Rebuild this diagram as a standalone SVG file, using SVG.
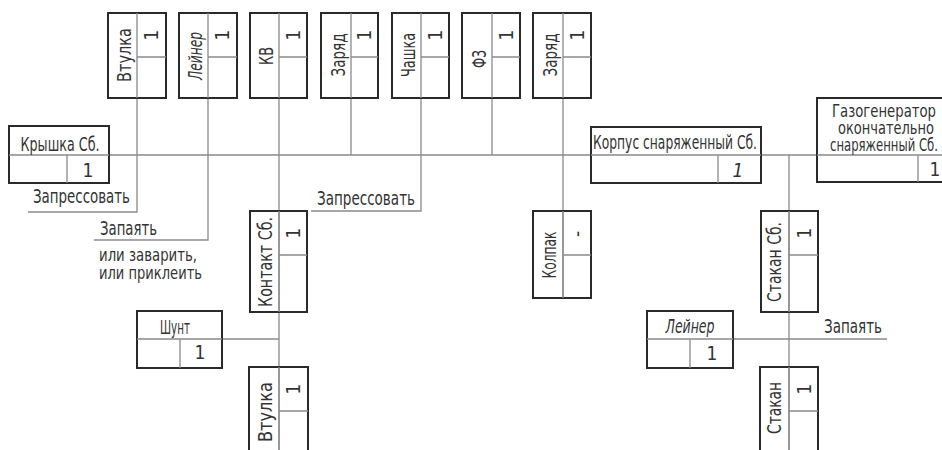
<svg xmlns="http://www.w3.org/2000/svg" width="942" height="450" viewBox="0 0 942 450">
<style>
.bg{fill:#fff}
.box{fill:none;stroke:#2a2a2a;stroke-width:2}
.div{fill:none;stroke:#8a8a8a;stroke-width:1.3}
.con{fill:none;stroke:#8a8a8a;stroke-width:1.3}
text{font-family:"Liberation Sans Narrow","DejaVu Sans Condensed","Liberation Sans",sans-serif;font-size:19px;fill:#333}
.it{font-style:italic}
.m{text-anchor:middle}
.sm{font-size:17px}
</style>
<rect class="bg" x="0" y="0" width="942" height="450"/>

<g id="connectors">
  <path class="con" d="M137,98 V212 H28"/>
  <path class="con" d="M208,98 V240 H94"/>
  <path class="con" d="M279,98 V450"/>
  <path class="con" d="M351,98 V155"/>
  <path class="con" d="M421,98 V211 H311"/>
  <path class="con" d="M492,98 V155"/>
  <path class="con" d="M563,98 V298"/>
  <path class="con" d="M109,155 H591"/>
  <path class="con" d="M761,155 H817"/>
  <path class="con" d="M789,155 V450"/>
  <path class="con" d="M222,339 H279"/>
  <path class="con" d="M733,339 H887"/>
  <text x="33" y="203" textLength="97" lengthAdjust="spacingAndGlyphs">Запрессовать</text>
  <text x="100" y="235" textLength="57" lengthAdjust="spacingAndGlyphs">Запаять</text>
  <text class="sm" x="99" y="261" textLength="98" lengthAdjust="spacingAndGlyphs">или заварить,</text>
  <text class="sm" x="99" y="279" textLength="103" lengthAdjust="spacingAndGlyphs">или приклеить</text>
  <text x="317" y="205" textLength="98" lengthAdjust="spacingAndGlyphs">Запрессовать</text>
  <text x="824" y="333" textLength="58" lengthAdjust="spacingAndGlyphs">Запаять</text>
</g>

<g id="n-vtulka-top">
  <rect class="box" x="108" y="13" width="58" height="85"/>
  <path class="div" d="M137,13 V98 M137,57 H166"/>
  <text class="m" transform="translate(131,55) rotate(-90)" textLength="54" lengthAdjust="spacingAndGlyphs">Втулка</text>
  <text class="m" transform="translate(158,35) rotate(-90)">1</text>
</g>
<g id="n-leiner-top">
  <rect class="box" x="179" y="13" width="58" height="85"/>
  <path class="div" d="M208,13 V98 M208,57 H237"/>
  <text class="m it" transform="translate(202,56) rotate(-90)" textLength="48" lengthAdjust="spacingAndGlyphs">Лейнер</text>
  <text class="m" transform="translate(229,35) rotate(-90)">1</text>
</g>
<g id="n-kv">
  <rect class="box" x="250" y="13" width="57" height="85"/>
  <path class="div" d="M279,13 V98 M279,57 H307"/>
  <text class="m" transform="translate(273,56) rotate(-90)" textLength="18" lengthAdjust="spacingAndGlyphs">КВ</text>
  <text class="m" transform="translate(300,35) rotate(-90)">1</text>
</g>
<g id="n-zaryad1">
  <rect class="box" x="321" y="13" width="57" height="85"/>
  <path class="div" d="M351,13 V98 M351,57 H378"/>
  <text class="m" transform="translate(345,55) rotate(-90)" textLength="43" lengthAdjust="spacingAndGlyphs">Заряд</text>
  <text class="m" transform="translate(371,35) rotate(-90)">1</text>
</g>
<g id="n-chashka">
  <rect class="box" x="392" y="13" width="57" height="85"/>
  <path class="div" d="M421,13 V98 M421,57 H449"/>
  <text class="m" transform="translate(415,55) rotate(-90)" textLength="44" lengthAdjust="spacingAndGlyphs">Чашка</text>
  <text class="m" transform="translate(442,35) rotate(-90)">1</text>
</g>
<g id="n-fz">
  <rect class="box" x="462" y="13" width="58" height="85"/>
  <path class="div" d="M492,13 V98 M492,57 H520"/>
  <text class="m" transform="translate(486,59) rotate(-90)" textLength="18" lengthAdjust="spacingAndGlyphs">ФЗ</text>
  <text class="m" transform="translate(513,35) rotate(-90)">1</text>
</g>
<g id="n-zaryad2">
  <rect class="box" x="533" y="13" width="58" height="85"/>
  <path class="div" d="M563,13 V98 M563,57 H591"/>
  <text class="m" transform="translate(557,55) rotate(-90)" textLength="43" lengthAdjust="spacingAndGlyphs">Заряд</text>
  <text class="m" transform="translate(584,35) rotate(-90)">1</text>
</g>

<g id="n-kryshka">
  <rect class="box" x="9" y="126" width="100" height="57"/>
  <path class="div" d="M9,155 H109 M67,155 V183"/>
  <text class="m" x="60" y="151" textLength="79" lengthAdjust="spacingAndGlyphs">Крышка Сб.</text>
  <text class="m" x="88" y="177">1</text>
</g>
<g id="n-korpus">
  <rect class="box" x="591" y="127" width="170" height="56"/>
  <path class="div" d="M591,155 H761 M718,155 V183"/>
  <text x="593" y="149" textLength="164" lengthAdjust="spacingAndGlyphs">Корпус снаряженный Сб.</text>
  <text class="m it" x="738" y="177">1</text>
</g>
<g id="n-gazogenerator">
  <rect class="box" x="817" y="98" width="140" height="84"/>
  <path class="div" d="M817,155 H957 M918,155 V182"/>
  <text class="m sm" x="884" y="117" textLength="104" lengthAdjust="spacingAndGlyphs">Газогенератор</text>
  <text class="m sm" x="886" y="134" textLength="96" lengthAdjust="spacingAndGlyphs">окончательно</text>
  <text class="m sm" x="884" y="151" textLength="108" lengthAdjust="spacingAndGlyphs">снаряженный Сб.</text>
  <text class="m" x="935" y="176">1</text>
</g>

<g id="n-kontakt">
  <rect class="box" x="250" y="211" width="57" height="101"/>
  <path class="div" d="M279,211 V312 M279,255 H307"/>
  <text class="m" transform="translate(272,262) rotate(-90)" textLength="90" lengthAdjust="spacingAndGlyphs">Контакт Сб.</text>
  <text class="m" transform="translate(300,233) rotate(-90)">1</text>
</g>
<g id="n-shunt">
  <rect class="box" x="137" y="311" width="85" height="57"/>
  <path class="div" d="M137,339 H222 M180,339 V368"/>
  <text class="m" x="175" y="334" textLength="30" lengthAdjust="spacingAndGlyphs">Шунт</text>
  <text class="m" x="200" y="359">1</text>
</g>
<g id="n-vtulka-bottom">
  <rect class="box" x="249" y="367" width="59" height="100"/>
  <path class="div" d="M279,367 V450 M279,411 H308"/>
  <text class="m" transform="translate(272,412) rotate(-90)" textLength="60" lengthAdjust="spacingAndGlyphs">Втулка</text>
  <text class="m" transform="translate(300,389) rotate(-90)">1</text>
</g>
<g id="n-kolpak">
  <rect class="box" x="533" y="211" width="58" height="87"/>
  <path class="div" d="M563,211 V298 M563,255 H591"/>
  <text class="m" transform="translate(556,255) rotate(-90)" textLength="47" lengthAdjust="spacingAndGlyphs">Колпак</text>
  <text class="m" transform="translate(584,234) rotate(-90)">-</text>
</g>
<g id="n-stakan-sb">
  <rect class="box" x="761" y="211" width="57" height="101"/>
  <path class="div" d="M789,211 V312 M789,255 H818"/>
  <text class="m" transform="translate(781,262) rotate(-90)" textLength="80" lengthAdjust="spacingAndGlyphs">Стакан Сб.</text>
  <text class="m" transform="translate(811,233) rotate(-90)">1</text>
</g>
<g id="n-leiner-right">
  <rect class="box" x="647" y="311" width="86" height="57"/>
  <path class="div" d="M647,339 H733 M690,339 V368"/>
  <text class="m it" x="690" y="333" textLength="49" lengthAdjust="spacingAndGlyphs">Лейнер</text>
  <text class="m" x="712" y="360">1</text>
</g>
<g id="n-stakan">
  <rect class="box" x="760" y="367" width="58" height="100"/>
  <path class="div" d="M789,367 V450 M789,411 H818"/>
  <text class="m" transform="translate(781,408) rotate(-90)" textLength="52" lengthAdjust="spacingAndGlyphs">Стакан</text>
  <text class="m" transform="translate(811,389) rotate(-90)">1</text>
</g>
</svg>
